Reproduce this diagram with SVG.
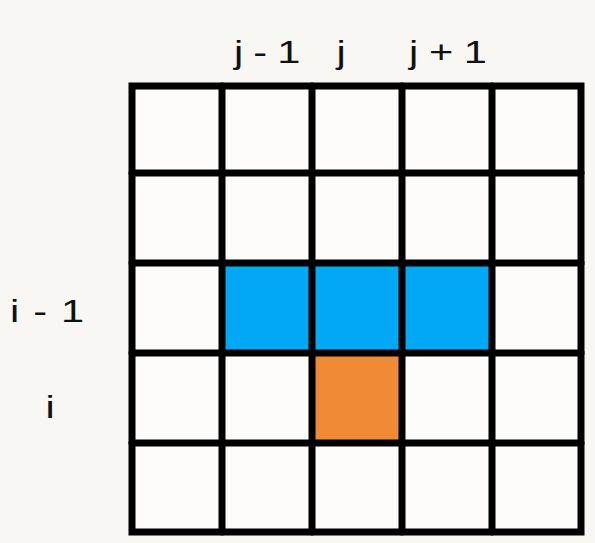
<svg xmlns="http://www.w3.org/2000/svg" width="595" height="543" viewBox="0 0 595 543">
<style>
.lbl{font-family:"Liberation Sans","DejaVu Sans",sans-serif;font-size:32px;fill:#111;}
.ln{stroke:#000;stroke-width:7;stroke-linecap:round;fill:none;}
</style>
<rect x="0" y="0" width="595" height="543" fill="#f8f7f4"/>
<g id="labels">
<text class="lbl" transform="translate(234,63) scale(1.3,1)" x="0" y="0" textLength="51" lengthAdjust="spacing">j-1</text>
<text class="lbl" transform="translate(341,63) scale(1.3,1)" x="0" y="0" text-anchor="middle" font-size="36">j</text>
<text class="lbl" transform="translate(409,63) scale(1.3,1)" x="0" y="0" textLength="60" lengthAdjust="spacing">j+1</text>
<text class="lbl" transform="translate(10,322) scale(1.3,1)" x="0" y="0" textLength="57" lengthAdjust="spacing">i-1</text>
<text class="lbl" transform="translate(50,418) scale(1.3,1)" x="0" y="0" text-anchor="middle" font-size="40">i</text>
</g>
<g id="cells">
<rect x="132" y="86" width="449" height="446" fill="#fdfcfa"/>
<rect id="blue-row" x="222" y="263" width="270" height="90" fill="#00a8f5"/>
<rect id="orange-cell" x="312" y="353" width="90" height="90" fill="#f08a36"/>
</g>
<g id="grid">
<rect class="ln" x="132" y="86" width="449" height="446"/>
<line class="ln" x1="222" y1="86" x2="222" y2="532"/>
<line class="ln" x1="312" y1="86" x2="312" y2="532"/>
<line class="ln" x1="402" y1="86" x2="402" y2="532"/>
<line class="ln" x1="492" y1="86" x2="492" y2="532"/>
<line class="ln" x1="132" y1="173" x2="581" y2="173"/>
<line class="ln" x1="132" y1="263" x2="581" y2="263"/>
<line class="ln" x1="132" y1="353" x2="581" y2="353"/>
<line class="ln" x1="132" y1="443" x2="581" y2="443"/>
</g>
</svg>
